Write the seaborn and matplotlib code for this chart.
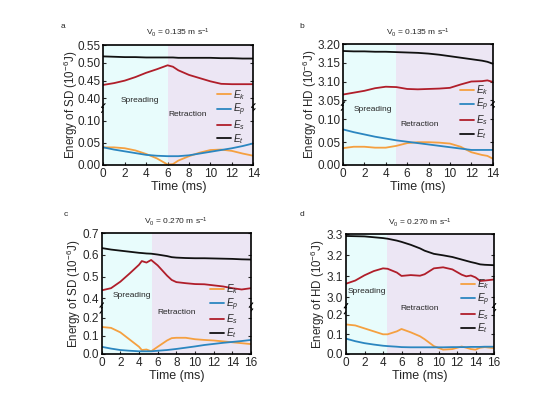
import numpy as np
import pandas as pd
import matplotlib
matplotlib.use('Agg')
import matplotlib.pyplot as plt
import seaborn as sns

sns.set_style('ticks')
plt.rcParams['font.family'] = ['Liberation Sans', 'DejaVu Sans']
plt.rcParams['mathtext.fontset'] = 'custom'
plt.rcParams['mathtext.rm'] = 'Liberation Sans'
plt.rcParams['mathtext.it'] = 'Liberation Sans:italic'

# ---- data ----
# panel a : SD, V0 = 0.135
a_t = [0, 1, 2, 3, 4, 5, 6, 6.5, 7, 8, 9, 10, 11, 12, 13, 14]
a_ek = [0.040, 0.040, 0.038, 0.033, 0.025, 0.015, 0.001, 0.002, 0.010, 0.020, 0.028, 0.034, 0.035, 0.032, 0.026, 0.021]
a_ep = [0.040, 0.035, 0.031, 0.027, 0.023, 0.021, 0.020, 0.020, 0.020, 0.022, 0.026, 0.030, 0.034, 0.038, 0.043, 0.049]
a_es = [0.438, 0.443, 0.450, 0.460, 0.472, 0.482, 0.493, 0.489, 0.479, 0.466, 0.457, 0.448, 0.441, 0.440, 0.440, 0.440]
a_et = [0.518, 0.517, 0.516, 0.516, 0.515, 0.515, 0.515, 0.515, 0.514, 0.514, 0.514, 0.514, 0.513, 0.513, 0.512, 0.512]

# panel b : HD, V0 = 0.135
b_t = [0, 1, 2, 3, 4, 5, 6, 7, 8, 9, 10, 11, 12, 13, 13.5, 14]
b_ek = [0.037, 0.040, 0.040, 0.038, 0.038, 0.042, 0.048, 0.050, 0.050, 0.049, 0.047, 0.040, 0.028, 0.022, 0.020, 0.014]
b_ep = [0.078, 0.072, 0.067, 0.062, 0.058, 0.054, 0.051, 0.048, 0.045, 0.042, 0.039, 0.036, 0.033, 0.033, 0.033, 0.033]
b_es = [3.065, 3.070, 3.075, 3.082, 3.086, 3.085, 3.080, 3.079, 3.080, 3.081, 3.083, 3.092, 3.100, 3.101, 3.103, 3.099]
b_et = [3.182, 3.181, 3.181, 3.180, 3.180, 3.179, 3.178, 3.177, 3.175, 3.172, 3.168, 3.164, 3.160, 3.156, 3.153, 3.148]

# panel c : SD, V0 = 0.270
c_t = [0, 1, 2, 3, 4, 4.3, 4.8, 5.3, 6, 7, 7.5, 8, 9, 10, 11, 12, 13, 14, 15, 16]
c_ek = [0.150, 0.145, 0.120, 0.080, 0.040, 0.022, 0.025, 0.015, 0.040, 0.075, 0.088, 0.090, 0.090, 0.082, 0.078, 0.075, 0.070, 0.065, 0.060, 0.055]
c_ep = [0.040, 0.030, 0.022, 0.018, 0.015, 0.015, 0.015, 0.015, 0.018, 0.022, 0.025, 0.028, 0.035, 0.042, 0.050, 0.056, 0.062, 0.067, 0.072, 0.078]
c_es = [0.437, 0.447, 0.477, 0.515, 0.555, 0.572, 0.565, 0.577, 0.552, 0.505, 0.485, 0.475, 0.470, 0.466, 0.465, 0.460, 0.455, 0.447, 0.441, 0.447]
c_et = [0.632, 0.625, 0.620, 0.615, 0.610, 0.609, 0.607, 0.606, 0.602, 0.595, 0.590, 0.588, 0.586, 0.585, 0.585, 0.584, 0.583, 0.582, 0.580, 0.579]

# panel d : HD, V0 = 0.270
d_t = [0, 1, 2, 3, 4, 4.5, 5.5, 6, 7, 8, 8.5, 9.5, 10.5, 11.5, 12.5, 13, 13.5, 14, 14.5, 15, 16]
d_ek = [0.150, 0.145, 0.130, 0.115, 0.100, 0.100, 0.115, 0.127, 0.110, 0.090, 0.075, 0.040, 0.022, 0.025, 0.038, 0.032, 0.025, 0.022, 0.032, 0.035, 0.030]
d_ep = [0.078, 0.065, 0.055, 0.048, 0.042, 0.040, 0.037, 0.035, 0.034, 0.034, 0.034, 0.034, 0.034, 0.035, 0.035, 0.035, 0.036, 0.036, 0.036, 0.037, 0.037]
d_es = [3.065, 3.080, 3.105, 3.125, 3.138, 3.136, 3.118, 3.102, 3.106, 3.103, 3.110, 3.138, 3.143, 3.133, 3.108, 3.100, 3.104, 3.095, 3.078, 3.080, 3.085]
d_et = [3.292, 3.291, 3.290, 3.286, 3.282, 3.279, 3.270, 3.264, 3.250, 3.233, 3.222, 3.207, 3.200, 3.192, 3.180, 3.174, 3.168, 3.163, 3.157, 3.155, 3.153]

names = ['$E_k$', '$E_p$', '$E_s$', '$E_t$']
colors = ['#f5a040', '#2b86c0', '#b01e2a', '#111111']
spread_col = '#e8fcfc'
retract_col = '#ece6f4'

fig = plt.figure(figsize=(5.5, 3.98), dpi=100)
W, H = 550.0, 398.0


def box(x0, x1, y0, y1):
    return [x0 / W, 1 - y1 / H, (x1 - x0) / W, (y1 - y0) / H]


def panel(t, ek, ep, es, et, xmax, split, lims, topticks, botticks, fmt,
          px, py_top, py_brk, py_bot, letter, title, ylab, ylab_x, texts, leg):
    x0, x1 = px
    ax_t = fig.add_axes(box(x0, x1, py_top, py_brk))
    ax_b = fig.add_axes(box(x0, x1, py_brk, py_bot))
    df = pd.DataFrame({'t': t, 'Ek': ek, 'Ep': ep, 'Es': es, 'Et': et})
    long = df.melt(id_vars='t', var_name='kind', value_name='E')
    long['kind'] = long['kind'].map(dict(zip(['Ek', 'Ep', 'Es', 'Et'], names)))
    for ax in (ax_t, ax_b):
        ax.axvspan(0, split, color=spread_col, lw=0, zorder=0)
        ax.axvspan(split, xmax, color=retract_col, lw=0, zorder=0)
        sns.lineplot(data=long, x='t', y='E', hue='kind', hue_order=names,
                     palette=colors, lw=1.3, ax=ax, legend=False)
        ax.set_xlim(0, xmax)
        ax.set_ylabel('')
        ax.tick_params(direction='in', length=2.5, width=0.8, labelsize=8.5,
                       right=True, pad=2)
        for s in ax.spines.values():
            s.set_linewidth(1.2)
            s.set_color('black')
    ax_t.set_ylim(*lims[0])
    ax_b.set_ylim(*lims[1])
    ax_t.set_yticks(topticks)
    ax_b.set_yticks(botticks)
    ax_t.set_yticklabels([fmt.format(v) for v in topticks])
    ax_b.set_yticklabels([fmt.format(v) for v in botticks])
    ax_t.spines['bottom'].set_visible(False)
    ax_b.spines['top'].set_visible(False)
    ax_t.tick_params(axis='x', bottom=False, labelbottom=False)
    ax_t.set_xlabel('')
    ax_b.set_xticks(np.arange(0, xmax + 1, 2))
    ax_b.tick_params(axis='x', top=False)
    ax_b.set_xlabel('Time (ms)', fontsize=9, labelpad=1)

    # break marks
    for xs in (0, 1):
        for dy in (-0.045, 0.035):
            ax_t.plot([xs - 0.012, xs + 0.012], [dy - 0.03, dy + 0.03],
                      transform=ax_t.transAxes, color='k', lw=0.8, clip_on=False)

    cx = (x0 + x1) / 2
    fig.text(cx / W, 1 - (py_top - 12) / H, title, ha='center', va='center', fontsize=6)
    fig.text(letter[1] / W, 1 - letter[2] / H, letter[0], ha='center', va='center', fontsize=6)
    fig.text(ylab_x / W, 1 - (py_top + py_bot) / 2 / H, ylab, rotation=90,
             ha='center', va='center', fontsize=8.3)
    fig.text(texts[0][0] / W, 1 - texts[0][1] / H, 'Spreading', ha='center', va='center', fontsize=6)
    fig.text(texts[1][0] / W, 1 - texts[1][1] / H, 'Retraction', ha='center', va='center', fontsize=6)

    handles = [plt.Line2D([], [], color=c, lw=1.3) for c in colors]
    fig.legend(handles, names, loc='center left', bbox_to_anchor=(leg[0] / W, 1 - leg[1] / H),
               frameon=False, fontsize=7.2, handlelength=1.4, handletextpad=0.25,
               labelspacing=0.0, borderpad=0, borderaxespad=0)


sd_lab = 'Energy of SD (10$^{-6}$J)'
hd_lab = 'Energy of HD (10$^{-6}$J)'

panel(a_t, a_ek, a_ep, a_es, a_et, 14, 6,
      [(0.374, 0.55), (0, 0.13)], [0.40, 0.45, 0.50, 0.55], [0.00, 0.05, 0.10], '{:.2f}',
      (103.3, 253.3), 45, 107.7, 165, ('a', 63, 26),
      'V$_0$ = 0.135 m s$^{-1}$', sd_lab, 70.5, [(140, 101), (188, 114)], (216.7, 116.7))

panel(b_t, b_ek, b_ep, b_es, b_et, 14, 5,
      [(3.035, 3.20), (0, 0.13)], [3.05, 3.10, 3.15, 3.20], [0.00, 0.05, 0.10], '{:.2f}',
      (343, 492.7), 44.3, 105.7, 165, ('b', 302, 26),
      'V$_0$ = 0.135 m s$^{-1}$', hd_lab, 309.5, [(373, 109.3), (420, 124.3)], (460, 112.2))

panel(c_t, c_ek, c_ep, c_es, c_et, 16, 5.35,
      [(0.357, 0.70), (0, 0.257)], [0.4, 0.5, 0.6, 0.7], [0.0, 0.1, 0.2], '{:.1f}',
      (101.7, 251), 233.3, 307.7, 354, ('c', 66, 215),
      'V$_0$ = 0.270 m s$^{-1}$', sd_lab, 74, [(132, 295.7), (177, 312.7)], (210, 311.2))

panel(d_t, d_ek, d_ep, d_es, d_et, 16, 4.4,
      [(2.948, 3.30), (0, 0.232)], [3.0, 3.1, 3.2, 3.3], [0.0, 0.1, 0.2], '{:.1f}',
      (346, 494), 234.3, 308.3, 354, ('d', 302, 215),
      'V$_0$ = 0.270 m s$^{-1}$', hd_lab, 317.5, [(367, 291.7), (420, 309)], (460.7, 306.4))

fig.savefig('out.png', dpi=100)
